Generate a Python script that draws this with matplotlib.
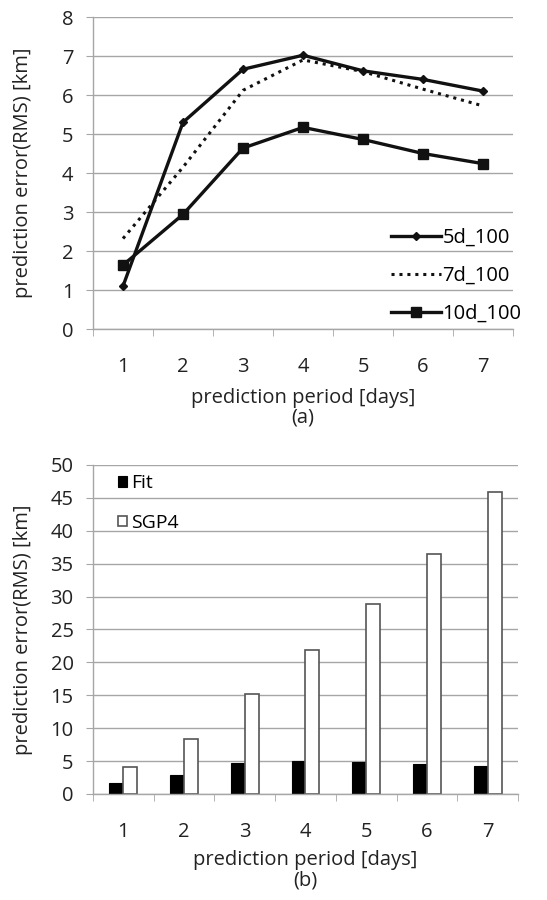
import matplotlib
matplotlib.use("Agg")
import matplotlib.pyplot as plt
import numpy as np

plt.rcParams['font.family'] = ['Open Sans', 'DejaVu Sans']

# prediction period [days]
days = [1, 2, 3, 4, 5, 6, 7]

# (a) RMS error for different fit spans
err_5d = [1.10, 5.30, 6.66, 7.02, 6.62, 6.40, 6.10]
err_7d = [2.32, 4.15, 6.12, 6.90, 6.60, 6.15, 5.72]
err_10d = [1.64, 2.94, 4.64, 5.17, 4.86, 4.50, 4.24]

# (b) Fit vs SGP4
fit_err = [1.64, 2.94, 4.64, 5.05, 4.86, 4.55, 4.24]
sgp4_err = [4.15, 8.4, 15.2, 21.9, 28.8, 36.4, 45.95]

grid_col = '#a6a6a6'
ink = '#111111'
txt = '#222222'
fs = 14.5


def style_axes(ax, ymax, ystep, ylab_x):
    ax.set_xlim(0.5, 7.5)
    ax.set_ylim(0, ymax)
    ax.set_yticks(np.arange(0, ymax + 0.1, ystep))
    ax.set_xticks(days)
    ax.set_xticks(np.arange(0.5, 7.6, 1), minor=True)
    ax.tick_params(axis='x', which='major', length=0, pad=20, labelsize=fs, labelcolor=txt)
    ax.tick_params(axis='x', which='minor', length=5, color=grid_col, direction='out')
    ax.tick_params(axis='y', length=5, color=grid_col, labelsize=fs, pad=9, labelcolor=txt)
    ax.yaxis.grid(True, color=grid_col, linewidth=1.0)
    ax.set_axisbelow(True)
    for s in ['top', 'right']:
        ax.spines[s].set_visible(False)
    for s in ['left', 'bottom']:
        ax.spines[s].set_color(grid_col)
        ax.spines[s].set_linewidth(1.0)
    ax.set_ylabel('prediction error(RMS) [km]', fontsize=fs, color=txt)
    ax.yaxis.set_label_coords(ylab_x, 0.5)


fig = plt.figure(figsize=(5.47, 9.0), dpi=100)

# ---- (a) line chart
ax1 = fig.add_axes([0.170, 0.6344, 0.768, 0.3467])
ax1.plot(days, err_5d, color=ink, lw=2.4, marker='D', ms=4.5, label='5d_100')
ax1.plot(days, err_7d, color=ink, lw=2.2, ls=(0, (1, 1.6)), label='7d_100')
ax1.plot(days, err_10d, color=ink, lw=2.4, marker='s', ms=7.5, label='10d_100')
style_axes(ax1, 8, 1, -0.143)
ax1.set_xlabel('prediction period [days]\n(a)', fontsize=fs, color=txt, labelpad=8,
               linespacing=1.0)
ax1.legend(loc='lower right', bbox_to_anchor=(1.039, -0.01), frameon=False, fontsize=fs,
           handlelength=2.5, handletextpad=0.05, labelspacing=0.9, borderaxespad=0)

# ---- (b) bar chart
ax2 = fig.add_axes([0.170, 0.1178, 0.777, 0.3656])
w = 0.23
x = np.array(days)
ax2.bar(x - w / 2, fit_err, w, color='black', edgecolor='black', lw=0.8, label='Fit')
ax2.bar(x + w / 2, sgp4_err, w, color='white', edgecolor='#555555', lw=1.2, label='SGP4')
style_axes(ax2, 50, 5, -0.141)
ax2.set_xlabel('prediction period [days]\n(b)', fontsize=fs, color=txt, labelpad=6,
               linespacing=1.0)
ax2.legend(loc='upper left', bbox_to_anchor=(0.04, 0.995), frameon=False, fontsize=fs - 0.5,
           handlelength=0.45, handleheight=0.45, handletextpad=0.25, labelspacing=1.1,
           borderaxespad=0)

fig.savefig('out.png', dpi=100)
